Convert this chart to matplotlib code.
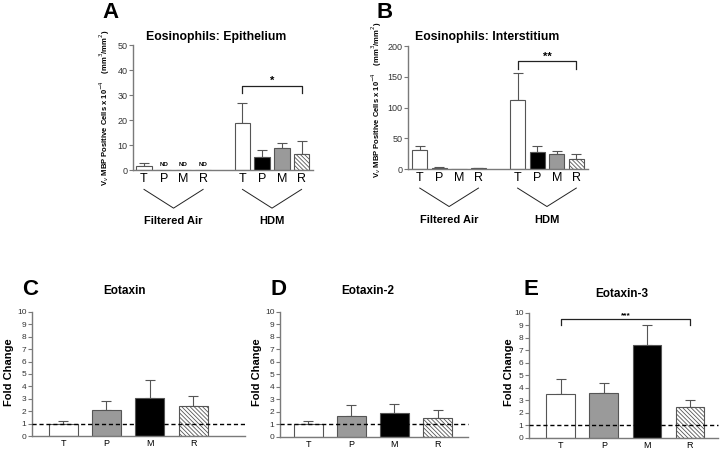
import numpy as np
from matplotlib import pyplot as plt
from matplotlib.transforms import blended_transform_factory

plt.rcParams['font.family'] = ['Liberation Sans', 'DejaVu Sans']
plt.rcParams['hatch.color'] = '#777777'
plt.rcParams['hatch.linewidth'] = 0.6

# Datos de los paneles superiores (A, B)
grupos = ['T', 'P', 'M', 'R']
pos_sup = [0, 1, 2, 3, 5, 6, 7, 8]

epi_media = [1.5, 0, 0, 0, 18.8, 5.3, 8.7, 6.3]
epi_error = [1.5, 0, 0, 0, 8.2, 2.7, 2.1, 5.3]

int_media = [31, 2, 0.5, 1, 113, 27, 25, 17]
int_error = [7, 1, 0, 0.5, 43, 10, 5, 8]

# Datos de los paneles inferiores (C, D, E)
eotaxina_media = [1.0, 2.1, 3.05, 2.4]
eotaxina_error = [0.25, 0.75, 1.45, 0.85]
eotaxina2_media = [1.0, 1.7, 1.95, 1.5]
eotaxina2_error = [0.25, 0.85, 0.65, 0.65]
eotaxina3_media = [3.5, 3.6, 7.4, 2.5]
eotaxina3_error = [1.2, 0.8, 1.6, 0.5]

gris_eje = '#7a7a7a'
gris_txt = '#333333'
rayado = '\\' * 8

colores_sup = ['white', 'black', '#9a9a9a', 'white'] * 2
hatch_sup = ['', '', '', rayado] * 2
colores_inf = ['white', '#9a9a9a', 'black', 'white']
hatch_inf = ['', '', '', rayado]

fig = plt.figure(figsize=(7.2, 4.5), dpi=100)


def estilo_eje(ax, tam):
    for lado in ['top', 'right']:
        ax.spines[lado].set_visible(False)
    for lado in ['left', 'bottom']:
        ax.spines[lado].set_color(gris_eje)
        ax.spines[lado].set_linewidth(1.0)
    ax.tick_params(axis='y', colors=gris_eje, labelcolor=gris_txt, labelsize=tam,
                   length=3, width=0.8, pad=1)
    ax.tick_params(axis='x', length=0, labelcolor='black', pad=2)


def barras(ax, x, media, error, colores, hatches, ancho):
    for xi, m, e, c, h in zip(x, media, error, colores, hatches):
        ax.bar(xi, m, width=ancho, color=c, edgecolor='#555555', linewidth=0.8,
               hatch=h, zorder=2)
        if e > 0:
            ax.errorbar(xi, m, yerr=[[0], [e]], fmt='none', ecolor='#555555',
                        elinewidth=0.8, capsize=3.5, capthick=0.8, zorder=1)


def corchete(ax, x0, x1, y_arriba, y_abajo, texto, tam):
    ax.plot([x0, x0, x1, x1], [y_abajo, y_arriba, y_arriba, y_abajo],
            color='#222222', linewidth=0.9, clip_on=False)
    ax.text((x0 + x1) / 2, y_arriba, texto, ha='center', va='bottom',
            fontsize=tam, fontweight='bold')


def etiqueta_grupo(ax, x0, x1, texto):
    tr = blended_transform_factory(ax.transData, ax.transAxes)
    xm = (x0 + x1) / 2
    ax.plot([x0, xm, x1], [-0.155, -0.305, -0.155], color='#222222',
            linewidth=0.7, transform=tr, clip_on=False)
    ax.text(xm, -0.37, texto, ha='center', va='top', fontsize=8,
            fontweight='bold', transform=tr)


# Panel A
axA = fig.add_axes([0.1847, 0.6222, 0.25, 0.2778])
barras(axA, pos_sup, epi_media, epi_error, colores_sup, hatch_sup, 0.78)
axA.set_xlim(-0.56, 8.58)
axA.set_ylim(0, 50)
axA.set_yticks(np.arange(0, 51, 10))
axA.set_xticks(pos_sup)
axA.set_xticklabels(grupos * 2, fontsize=9)
estilo_eje(axA, 6.5)
for xi in pos_sup[1:4]:
    axA.text(xi, 1.2, 'ND', ha='center', va='bottom', fontsize=4.5, fontweight='bold')
corchete(axA, 5, 8, 33.6, 31.0, '*', 8)
etiqueta_grupo(axA, 0, 3, 'Filtered Air')
etiqueta_grupo(axA, 5, 8, 'HDM')
fig.text(216 / 720, 1 - 37 / 450, 'Eosinophils: Epithelium', ha='center', va='center',
         fontsize=8.8, fontweight='bold')
fig.text(110 / 720, 1 - 18 / 450, 'A', ha='center', va='baseline', fontsize=16,
         fontweight='bold')
fig.text(105 / 720, 1 - 108 / 450,
         'V$_v$ MBP Positive Cells x 10$^{-4}$    (mm$^3$/mm$^2$)',
         rotation=90, ha='center', va='center', fontsize=5.5, fontweight='bold')

# Panel B
axB = fig.add_axes([0.5667, 0.6244, 0.25, 0.2733])
barras(axB, pos_sup, int_media, int_error, colores_sup, hatch_sup, 0.78)
axB.set_xlim(-0.6, 8.6)
axB.set_ylim(0, 200)
axB.set_yticks(np.arange(0, 201, 50))
axB.set_xticks(pos_sup)
axB.set_xticklabels(grupos * 2, fontsize=9)
estilo_eje(axB, 6.5)
corchete(axB, 5, 8, 175, 163, '**', 8)
etiqueta_grupo(axB, 0, 3, 'Filtered Air')
etiqueta_grupo(axB, 5, 8, 'HDM')
fig.text(487 / 720, 1 - 37 / 450, 'Eosinophils: Interstitium', ha='center', va='center',
         fontsize=8.8, fontweight='bold')
fig.text(385 / 720, 1 - 18 / 450, 'B', ha='center', va='baseline', fontsize=16,
         fontweight='bold')
fig.text(377 / 720, 1 - 100 / 450,
         'V$_v$ MBP Positive Cells x 10$^{-4}$    (mm$^3$/mm$^2$)',
         rotation=90, ha='center', va='center', fontsize=5.5, fontweight='bold')

# Paneles inferiores
pos_inf = np.arange(4)
paneles = [
    ([0.0444, 0.0311, 0.296, 0.2756], eotaxina_media, eotaxina_error, (-0.72, 4.2),
     'Eotaxin', 125, 291, 'C', 30, 9),
    ([0.3889, 0.0289, 0.261, 0.2778], eotaxina2_media, eotaxina2_error, (-0.65, 3.7),
     'Eotaxin-2', 368, 291, 'D', 278, 257),
    ([0.7347, 0.0267, 0.2625, 0.2778], eotaxina3_media, eotaxina3_error, (-0.74, 3.65),
     'Eotaxin-3', 622, 294, 'E', 531, 509),
]

for rect, media, error, lim, titulo, tx, ty, letra, lx, yx in paneles:
    ax = fig.add_axes(rect)
    barras(ax, pos_inf, media, error, colores_inf, hatch_inf, 0.67)
    ax.axhline(1, color='black', linestyle='--', linewidth=1.0, dashes=(3, 2),
               zorder=3, clip_on=False)
    ax.set_xlim(*lim)
    ax.set_ylim(0, 10)
    ax.set_yticks(np.arange(0, 11, 1))
    ax.set_xticks(pos_inf)
    ax.set_xticklabels(grupos, fontsize=6.5, color=gris_txt)
    estilo_eje(ax, 6)
    fig.text(tx / 720, 1 - ty / 450, titulo, ha='center', va='center', fontsize=8.5,
             fontweight='bold')
    fig.text(lx / 720, 1 - 295 / 450, letra, ha='center', va='baseline', fontsize=16,
             fontweight='bold')
    fig.text(yx / 720, 1 - 372 / 450, 'Fold Change', rotation=90, ha='center',
             va='center', fontsize=8, fontweight='bold')
    if letra == 'E':
        corchete(ax, 0, 3, 9.5, 9.0, '***', 6)

plt.savefig('out.png', dpi=100)
